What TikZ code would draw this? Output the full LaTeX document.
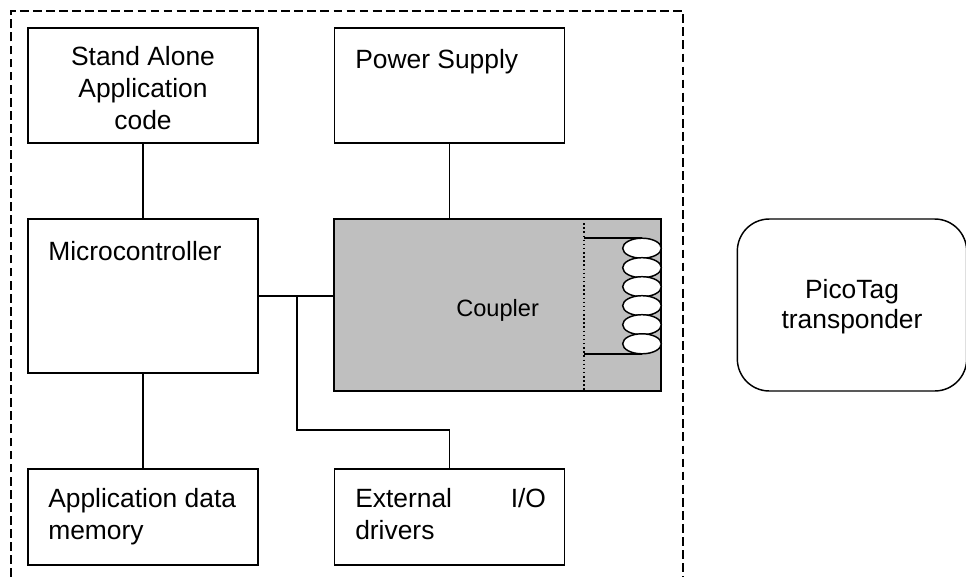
\documentclass[tikz,border=0pt]{standalone}
\usepackage{fontspec}
\setmainfont{Liberation Sans}
\usetikzlibrary{shapes.geometric}

\tikzset{
  boxnode/.style={draw, line width=1.1pt, outer sep=0pt, inner sep=0pt, minimum width=172.5pt},
  lbl/.style={inner sep=0pt, align=left, anchor=base west},
  lblmid/.style={inner sep=0pt, align=center, anchor=base},
  coilturn/.style={draw, ellipse, fill=white, line width=1.1pt, inner sep=0pt, outer sep=0pt,
    minimum width=29pt, minimum height=15pt},
  wire/.style={line width=1.1pt}
}

\begin{document}
\begin{tikzpicture}[x=0.75pt, y=-0.75pt, font=\fontsize{19.8}{24}\selectfont]
  \useasboundingbox (0,0) rectangle (966,577);
  % dashed outline, open at the bottom
  \draw[line width=1.1pt, dash pattern=on 6.6pt off 3.2pt] (11,577) -- (11,11) -- (683,11) -- (683,577);
  % boxes
  \node[boxnode, minimum height=86.25pt] (alone) at (143,85.5) {};
  \node[boxnode, minimum height=86.25pt] (power) at (449.5,85.5) {};
  \node[boxnode, minimum height=115.5pt] (micro) at (143,296) {};
  \node[boxnode, minimum width=245.25pt, minimum height=129pt, fill=black!25] (coupler) at (497.5,305) {};
  \node[boxnode, minimum height=72pt] (appdata) at (143,517) {};
  \node[boxnode, minimum height=72pt] (extio) at (449.5,517) {};
  \node[boxnode, minimum width=172pt, minimum height=129pt, rounded corners=24pt] (pico) at (852,305) {};
  % labels
  \node[lblmid] (alonetxt) at (143,129.5) {Stand Alone\\Application\\code};
  \node[lbl] (powertxt) at (355,68.5) {Power Supply};
  \node[lbl] (microtxt) at (48,260) {Microcontroller};
  \node[lbl, font=\fontsize{17.7}{20}\selectfont] (couplertxt) at (456,316.5) {Coupler};
  \node[lbl] (appdatatxt) at (48,539) {Application data\\memory};
  \node[lbl] (extiotxt) at (355,539) {External\hspace{44pt}I/O\\drivers};
  \node[lblmid, font=\fontsize{19.8}{22.5}\selectfont] (picotxt) at (852,328) {PicoTag\\transponder};
  % connectors
  \draw[wire] (alone) -- (micro);
  \draw[wire] (micro) -- (appdata);
  \draw[wire] (power.south) -- (power.south |- coupler.north);
  \draw[wire] (micro.east) -- (micro.east -| coupler.west);
  \coordinate (tap) at (297,296);
  \draw[wire] (tap) -- ++(0,134) -| (extio.north);
  % coil
  \coordinate (septop) at (584,219);
  \coordinate (sepbot) at (584,391);
  \draw[line width=1.1pt, dotted] (septop) -- (sepbot);
  \foreach \i/\y in {1/248.2, 2/267.7, 3/286.7, 4/305.7, 5/324.7, 6/343.8}
    \node[coilturn] (turn\i) at (642,\y) {};
  \draw[wire] (septop |- turn1.north) -- (turn1.north);
  \draw[wire] (sepbot |- turn6.south) -- (turn6.south);
\end{tikzpicture}
\end{document}
